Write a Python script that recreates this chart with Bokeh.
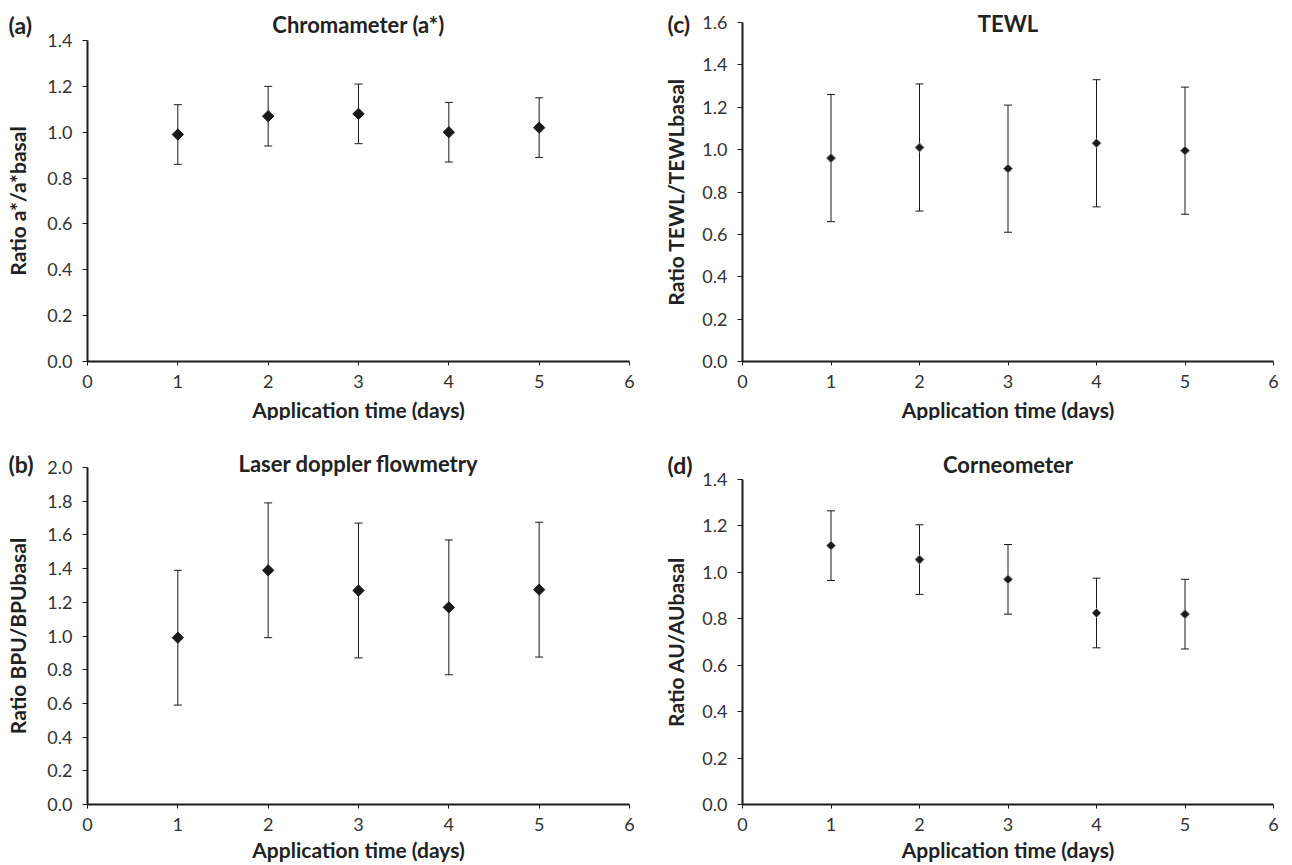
from bokeh.plotting import figure
from bokeh.layouts import row, column
from bokeh.models import (ColumnDataSource, Whisker, TeeHead, Label, FixedTicker,
                          Range1d, NumeralTickFormatter)
from bokeh.embed import file_html
from bokeh.resources import INLINE
import numpy as np

days = [1, 2, 3, 4, 5]

# (a) Chromameter (a*)
chroma_mean = [0.99, 1.07, 1.08, 1.00, 1.02]
chroma_err = [0.13, 0.13, 0.13, 0.13, 0.13]
# (b) Laser doppler flowmetry
ldf_mean = [0.99, 1.39, 1.27, 1.17, 1.275]
ldf_err = [0.40, 0.40, 0.40, 0.40, 0.40]
# (c) TEWL
tewl_mean = [0.96, 1.01, 0.91, 1.03, 0.995]
tewl_err = [0.30, 0.30, 0.30, 0.30, 0.30]
# (d) Corneometer
corneo_mean = [1.115, 1.055, 0.97, 0.825, 0.82]
corneo_err = [0.15, 0.15, 0.15, 0.15, 0.15]

x_ticks = [0, 1, 2, 3, 4, 5, 6]
y_ticks_14 = [0, 0.2, 0.4, 0.6, 0.8, 1.0, 1.2, 1.4]
y_ticks_16 = y_ticks_14 + [1.6]
y_ticks_20 = y_ticks_16 + [1.8, 2.0]

FONT = "Lato"
TXT = "#222222"
INK = "#1a1a1a"


def panel(letter, title, ylabel, means, errs, ymax, yticks,
          fig_w, fig_h, x0, x6, y0, ytop, letter_px, title_py, ylab_standoff,
          xlab_standoff, msize, mline):
    # pixel layout -> data ranges (axes sit at data 0 via fixed_location)
    sx = (x6 - x0) / 6.0
    sy = (y0 - ytop) / ymax
    xr = Range1d(-x0 / sx, (fig_w - x0) / sx)
    yr = Range1d(-(fig_h - y0) / sy, ymax + ytop / sy)

    p = figure(width=fig_w, height=fig_h, x_range=xr, y_range=yr,
               output_backend="svg", toolbar_location=None,
               min_border_left=0, min_border_right=0,
               min_border_top=0, min_border_bottom=0)
    p.title.visible = False
    p.outline_line_color = None
    p.xgrid.visible = False
    p.ygrid.visible = False
    p.background_fill_color = "white"
    p.border_fill_color = "white"

    lower = [m - e for m, e in zip(means, errs)]
    upper = [m + e for m, e in zip(means, errs)]
    src = ColumnDataSource(dict(x=days, y=means, lower=lower, upper=upper))
    w = Whisker(source=src, base="x", lower="lower", upper="upper",
                line_color=INK, line_width=1,
                upper_head=TeeHead(size=8, line_color=INK, line_width=1),
                lower_head=TeeHead(size=8, line_color=INK, line_width=1))
    p.add_layout(w)
    p.scatter("x", "y", source=src, marker="square", angle=np.pi / 4, size=msize,
              fill_color=INK, line_color=mline, line_width=1)

    for ax in (p.xaxis, p.yaxis):
        ax.axis_line_color = INK
        ax.axis_line_width = 2
        ax.major_tick_line_color = INK
        ax.major_tick_line_width = 1
        ax.minor_tick_line_color = None
        ax.major_tick_in = 0
        ax.major_label_text_font = FONT
        ax.major_label_text_font_size = "18px"
        ax.major_label_text_color = "#333333"
        ax.axis_label_text_font = FONT
        ax.axis_label_text_font_style = "bold"
        ax.axis_label_text_font_size = "21px"
        ax.axis_label_text_color = TXT
        ax.fixed_location = 0

    p.xaxis.bounds = (0, 6)
    p.xaxis.ticker = FixedTicker(ticks=x_ticks)
    p.xaxis.major_tick_out = 4
    p.xaxis.major_label_standoff = 9
    p.xaxis.axis_label = "Application time (days)"
    p.xaxis.axis_label_standoff = xlab_standoff

    p.yaxis.bounds = (0, ymax)
    p.yaxis.ticker = FixedTicker(ticks=yticks)
    p.yaxis.major_tick_out = 5
    p.yaxis.major_label_standoff = 10
    p.yaxis.formatter = NumeralTickFormatter(format="0.0")
    p.yaxis.axis_label = ylabel
    p.yaxis.axis_label_standoff = ylab_standoff

    ly = (y0 - title_py) / sy
    p.add_layout(Label(x=(letter_px - x0) / sx, y=ly, text=letter, text_font=FONT,
                       text_font_style="bold", text_font_size="23px",
                       text_color=TXT, text_align="left", text_baseline="middle"))
    p.add_layout(Label(x=3, y=ly, text=title, text_font=FONT,
                       text_font_style="bold", text_font_size="22px",
                       text_color=TXT, text_align="center", text_baseline="middle"))
    return p


pa = panel("(a)", "Chromameter (a*)", "Ratio a*/a*basal", chroma_mean, chroma_err,
           1.4, y_ticks_14, 660, 420, 87, 629, 361, 40, 8, 24, 14, 6, 8, INK)
pc = panel("(c)", "TEWL", "Ratio TEWL/TEWLbasal", tewl_mean, tewl_err,
           1.6, y_ticks_16, 630, 420, 82, 613, 361, 22, 7, 23, 11, 6, 6.5, "#9a9a9a")
pb = panel("(b)", "Laser doppler flowmetry", "Ratio BPU/BPUbasal", ldf_mean, ldf_err,
           2.0, y_ticks_20, 660, 444, 87, 629, 384, 47, 8, 43, 14, 3, 8, INK)
pd_ = panel("(d)", "Corneometer", "Ratio AU/AUbasal", corneo_mean, corneo_err,
            1.4, y_ticks_14, 630, 444, 82, 613, 384, 59, 7, 44, 11, 3, 6.5, "#9a9a9a")

layout = column(row(pa, pc), row(pb, pd_))
open("out.html", "w").write(file_html(layout, INLINE))
